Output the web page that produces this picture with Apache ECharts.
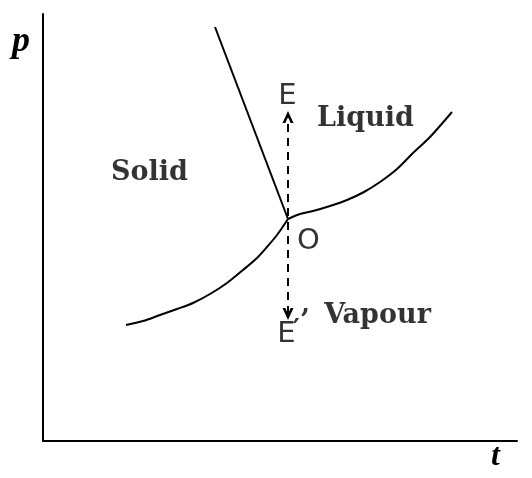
<!DOCTYPE html>
<html><head><meta charset="utf-8">
<script src="https://cdn.jsdelivr.net/npm/echarts@6/dist/echarts.min.js"></script>
<style>html,body{margin:0;padding:0;background:#fff;}#c{width:532px;height:478px;}</style>
</head><body><div id="c"></div>
<script>
// phase diagram data (x = temperature units, y = pressure units)
const fusionLine = [[172, 414], [245, 222]];
const vapourCurve = [[83, 116], [100, 120], [117, 126], [134, 132], [150, 138], [167, 147], [184, 158], [200, 171], [214, 183], [224, 194], [234, 206], [245, 222]];
const liquidCurve = [[245, 222], [257, 227], [270, 230], [287, 235], [304, 241], [321, 249], [337, 259], [354, 272], [370, 288], [387, 304], [409, 329]];
const arrowLine = [[245, 127], [245, 324]];
const regionLabels = [
  { text: 'Solid', x: 107, y: 268 },
  { text: 'Liquid', x: 323, y: 322 },
  { text: 'Vapour', x: 335, y: 125 }
];
const pointLabels = [
  { text: 'E', x: 245, y: 344 },
  { text: 'O', x: 266, y: 199 },
  { text: 'E', x: 244, y: 106 }
];
const primeLabels = [
  { text: '\u2032', x: 254, y: 110 },
  { text: ',', x: 263, y: 135 }
];
const axisNames = { x: 't', y: 'p' };

const chart = echarts.init(document.getElementById('c'), null, { renderer: 'canvas' });
const black = '#000';
const chevron = 'path://M5,0 L10,10 L7.4,10 L5,5 L2.6,10 L0,10 Z';
function textSeries(arr, font) {
  return {
    type: 'scatter', clip: false, symbolSize: 1, silent: true,
    itemStyle: { color: 'rgba(255,255,255,0)' },
    data: arr.map(d => ({
      value: [d.x, d.y],
      label: Object.assign({ show: true, position: [0, 0], align: 'center', verticalAlign: 'middle', formatter: d.text, color: black }, font)
    }))
  };
}
chart.setOption({
  animation: false,
  textStyle: { color: black },
  grid: { left: 43, top: 14, right: 15, bottom: 37 },
  xAxis: {
    type: 'value', min: 0, max: 474,
    axisLine: { show: true, lineStyle: { color: black, width: 2 } },
    axisTick: { show: false }, axisLabel: { show: false }, splitLine: { show: false }
  },
  yAxis: {
    type: 'value', min: 0, max: 427,
    axisLine: { show: true, lineStyle: { color: black, width: 2 } },
    axisTick: { show: false }, axisLabel: { show: false }, splitLine: { show: false }
  },
  graphic: [
    { type: 'text', left: 12, top: 24, style: { text: axisNames.y, font: 'italic bold 36px "Liberation Serif"', fill: black } },
    { type: 'text', left: 491, top: 441, style: { text: axisNames.x, font: 'italic bold 32px "Liberation Serif"', fill: black } }
  ],
  series: [
    { type: 'line', data: fusionLine, symbol: 'none', lineStyle: { color: black, width: 2 } },
    { type: 'line', data: vapourCurve, smooth: 0.3, symbol: 'none', lineStyle: { color: black, width: 2 } },
    { type: 'line', data: liquidCurve, smooth: 0.3, symbol: 'none', lineStyle: { color: black, width: 2 } },
    {
      type: 'line', data: [], symbol: 'none',
      markLine: {
        silent: true,
        symbol: [chevron, chevron],
        symbolSize: [11, 12],
        label: { show: false },
        lineStyle: { color: black, width: 2, type: [8, 6] },
        itemStyle: { color: black },
        data: [[{ coord: arrowLine[0] }, { coord: arrowLine[1] }]]
      }
    },
    textSeries(regionLabels, { fontFamily: 'DejaVu Serif', fontWeight: 'bold', fontSize: 27 }),
    textSeries(pointLabels, { fontFamily: 'DejaVu Sans', fontSize: 29 }),
    textSeries(primeLabels, { fontFamily: 'DejaVu Serif', fontWeight: 'bold', fontSize: 26 })
  ]
});
</script></body></html>
